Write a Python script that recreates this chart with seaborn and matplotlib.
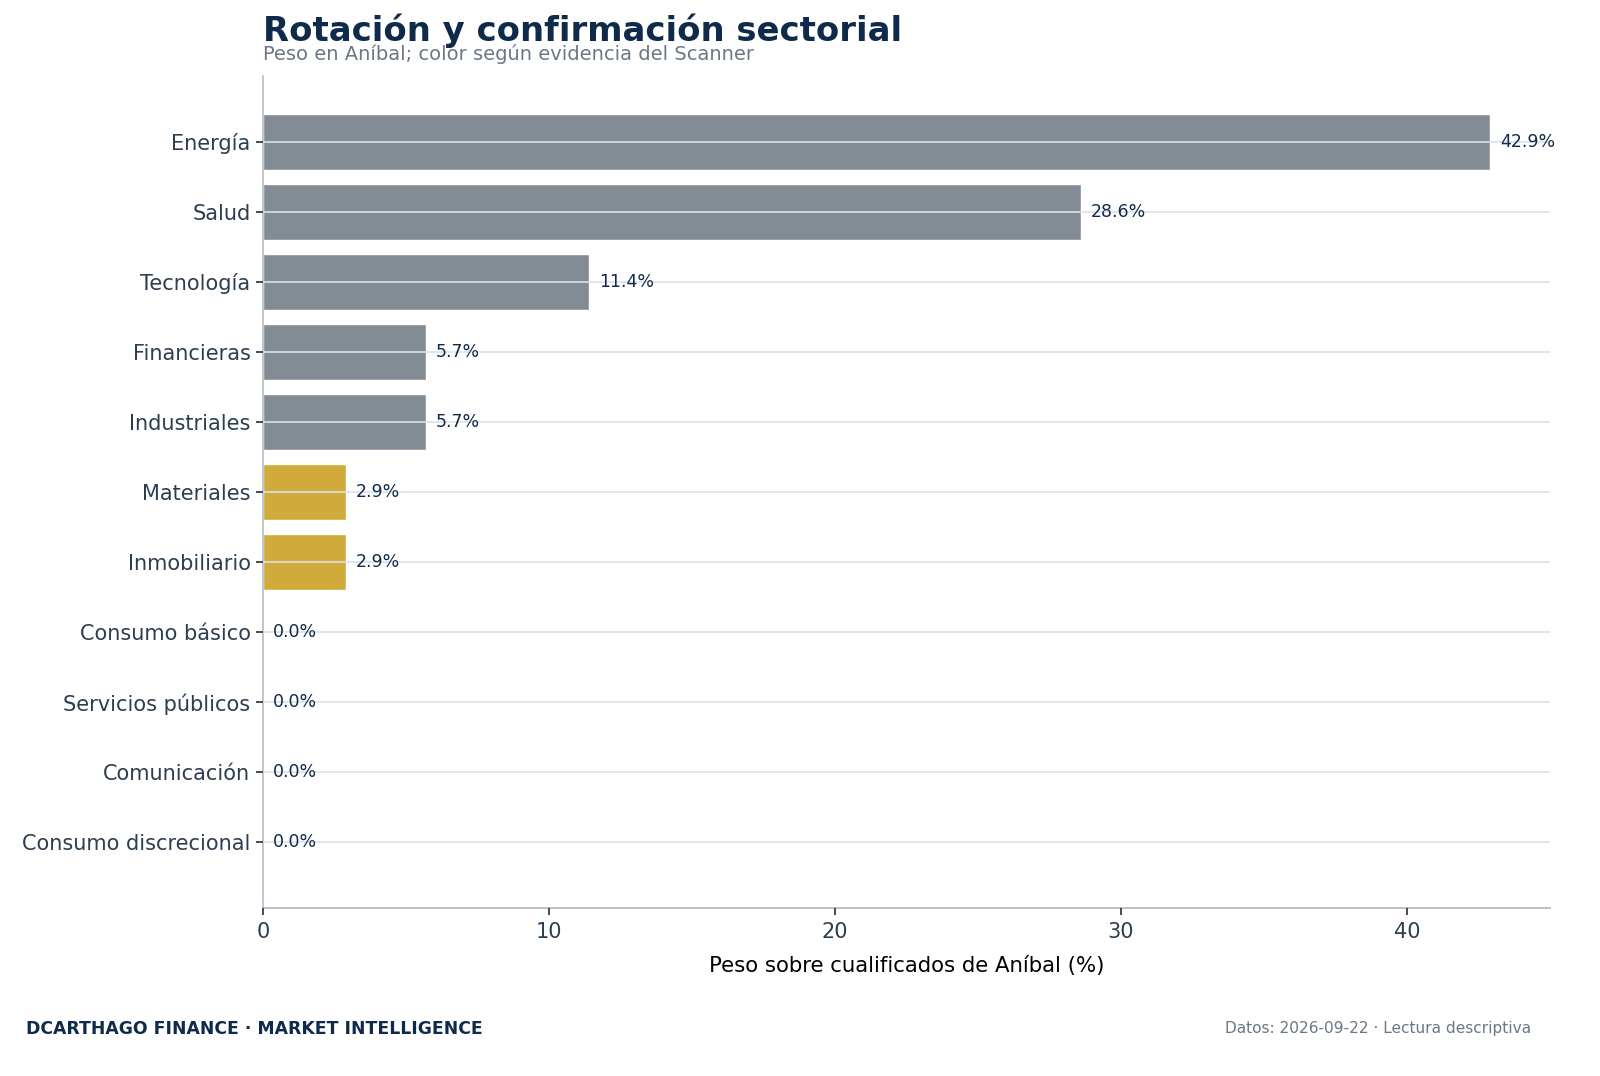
import matplotlib
matplotlib.use("Agg")
import matplotlib.pyplot as plt
import seaborn as sns
import pandas as pd

sectores = ["Energía", "Salud", "Tecnología", "Financieras", "Industriales",
            "Materiales", "Inmobiliario", "Consumo básico", "Servicios públicos",
            "Comunicación", "Consumo discrecional"]
pesos = [42.9, 28.6, 11.4, 5.7, 5.7, 2.9, 2.9, 0.0, 0.0, 0.0, 0.0]
evidencia = ["neutral", "neutral", "neutral", "neutral", "neutral",
             "parcial", "parcial", "neutral", "neutral", "neutral", "neutral"]
xticks = [0, 10, 20, 30, 40]

palette = {"neutral": "#838c95", "parcial": "#d0aa3b"}
NAVY = "#0f2a4a"

df = pd.DataFrame({"sector": sectores, "peso": pesos, "ev": evidencia})

sns.set_theme(style="white")
plt.rcParams['font.family'] = ['DejaVu Sans']

fig = plt.figure(figsize=(16, 10.76), dpi=100)
ax = fig.add_axes([263/1600, 1 - 908/1076, (1550-263)/1600, (908-76)/1076])

sns.barplot(data=df, y="sector", x="peso", hue="ev", palette=palette,
            dodge=False, legend=False, width=0.8, ax=ax, saturation=1,
            order=sectores)

ax.set_xlim(0, 45)
ax.set_ylim(len(sectores) - 1 + 0.94, -0.94)
ax.set_xticks(xticks)
ax.grid(axis="y", color="#dde2e8", linewidth=1.2)
ax.grid(axis="x", visible=False)
ax.set_axisbelow(False)
for s in ["top", "right"]:
    ax.spines[s].set_visible(False)
ax.spines["left"].set_color("#b8bfc7")
ax.spines["bottom"].set_color("#aab6c4")
ax.spines["bottom"].set_linewidth(1.2)

ax.tick_params(axis="y", left=True, length=5, color="#333", labelsize=15, labelcolor="#2c3e50", pad=4)
ax.tick_params(axis="x", bottom=True, length=5, color="#333", labelsize=15, labelcolor="#2c3e50", pad=5)
ax.set_ylabel("")
ax.set_xlabel("Peso sobre cualificados de Aníbal (%)", fontsize=15.3, color="black", labelpad=10)

for i, v in enumerate(pesos):
    ax.text(v + 0.35, i, f"{v:.1f}%", va="center", ha="left", fontsize=12.5, color=NAVY)

fig.text(263/1600, 1 - 31/1076, "Rotación y confirmación sectorial", fontsize=24.4,
         fontweight="bold", color=NAVY, ha="left", va="center")
fig.text(263/1600, 1 - 54/1076, "Peso en Aníbal; color según evidencia del Scanner",
         fontsize=14, color="#6b7785", ha="left", va="center")
fig.text(26/1600, 1 - 1029/1076, "DCARTHAGO FINANCE · MARKET INTELLIGENCE", fontsize=12.4,
         fontweight="bold", color=NAVY, ha="left", va="center")
fig.text(1531/1600, 1 - 1029/1076, "Datos: 2026-09-22 · Lectura descriptiva", fontsize=11.1,
         color="#6b7785", ha="right", va="center")

fig.savefig("out.png", dpi=100, facecolor="white")
